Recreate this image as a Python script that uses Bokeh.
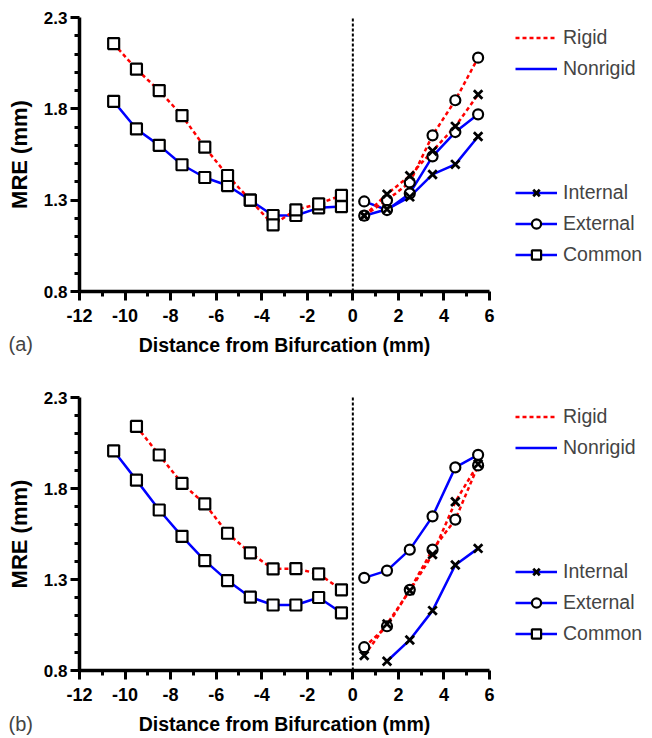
import numpy as np
from bokeh.plotting import figure
from bokeh.models import Range1d, Legend, LegendItem, FixedTicker, Label
from bokeh.layouts import column
from bokeh.embed import file_html
from bokeh.resources import INLINE

nan = float("nan")

# ---------------- data ----------------
common_x = [-10.5, -9.5, -8.5, -7.5, -6.5, -5.5, -4.5, -3.5, -2.5, -1.5, -0.5]
branch_x = [0.5, 1.5, 2.5, 3.5, 4.5, 5.5]
x_ticks = [-12, -10, -8, -6, -4, -2, 0, 2, 4, 6]
y_ticks = [0.8, 1.3, 1.8, 2.3]

# panel (a)
a_common_rigid = [2.157, 2.017, 1.90, 1.763, 1.59, 1.435, 1.30, 1.165, 1.247, 1.28, 1.326]
a_common_nonrigid = [1.841, 1.69, 1.60, 1.494, 1.424, 1.38, 1.30, 1.216, 1.216, 1.258, 1.265]
a_internal_rigid = [1.215, 1.333, 1.434, 1.569, 1.704, 1.878]
a_internal_nonrigid = [1.215, 1.25, 1.318, 1.441, 1.496, 1.649]
a_external_rigid = [1.215, 1.30, 1.397, 1.655, 1.847, 2.08]
a_external_nonrigid = [1.293, 1.246, 1.337, 1.54, 1.673, 1.77]

# panel (b)
b_common_rigid = [nan, 2.141, 1.984, 1.828, 1.715, 1.554, 1.446, 1.358, 1.36, 1.331, 1.243]
b_common_nonrigid = [2.007, 1.846, 1.682, 1.537, 1.404, 1.294, 1.203, 1.16, 1.16, 1.201, 1.117]
b_internal_rigid = [0.882, 1.056, 1.239, 1.437, 1.727, 1.934]
b_internal_nonrigid = [nan, 0.851, 0.968, 1.129, 1.38, 1.471]
b_external_rigid = [0.928, 1.043, 1.243, 1.464, 1.629, 1.927]
b_external_nonrigid = [1.309, 1.349, 1.464, 1.647, 1.916, 1.985]

RED = "#ff0000"
BLUE = "#0000ff"
FONT = "Liberation Sans"

# ---------------- layout (pixels) ----------------
FIG_W = 652
AX_LEFT_PX, AX_RIGHT_PX = 79, 489       # where x = -12 and x = 6 sit


def make_panel(tag, common_r, common_n, int_r, int_n, ext_r, ext_n,
               fig_h, top_px, bottom_px, legend_top_px, tag_y_px):
    # data ranges chosen so the axes land where the reference has them;
    # the frame covers the whole canvas so that nothing gets clipped
    x0, x1 = x_ticks[0], x_ticks[-1]
    y0, y1 = y_ticks[0], y_ticks[-1]
    kx = (x1 - x0) / (AX_RIGHT_PX - AX_LEFT_PX)
    ky = (y1 - y0) / (bottom_px - top_px)
    xr = Range1d(x0 - AX_LEFT_PX * kx, x1 + (FIG_W - AX_RIGHT_PX) * kx)
    yr = Range1d(y0 - (fig_h - bottom_px) * ky, y1 + top_px * ky)

    p = figure(width=FIG_W, height=fig_h, x_range=xr, y_range=yr,
               output_backend="svg", toolbar_location=None, min_border=0)
    p.outline_line_color = None
    p.xgrid.visible = False
    p.ygrid.visible = False

    minor_x = [v for v in range(-11, 6, 2)]
    minor_y = [round(v, 1) for v in np.arange(0.9, 2.25, 0.1) if round(v, 1) not in y_ticks]
    p.xaxis.ticker = FixedTicker(ticks=x_ticks, minor_ticks=minor_x)
    p.yaxis.ticker = FixedTicker(ticks=y_ticks, minor_ticks=minor_y)
    p.xaxis.major_label_overrides = {t: str(t) for t in x_ticks}
    p.xaxis.fixed_location = y0
    p.yaxis.fixed_location = x0
    p.xaxis.bounds = (x0, x1)
    p.yaxis.bounds = (y0, y1)

    for ax in (p.xaxis, p.yaxis):
        ax.axis_line_width = 3.5
        ax.major_tick_line_width = 3
        ax.minor_tick_line_width = 3
        ax.major_tick_in = 0
        ax.minor_tick_in = 0
        ax.major_label_text_font = FONT
        ax.major_label_text_font_style = "bold"
        ax.major_label_text_color = "black"
        ax.axis_label_text_font = FONT
        ax.axis_label_text_font_style = "bold"
        ax.axis_label_text_color = "black"
    p.xaxis.major_label_text_font_size = "18px"
    p.yaxis.major_label_text_font_size = "17px"
    p.xaxis.major_tick_out = 9
    p.xaxis.minor_tick_out = 5
    p.yaxis.major_tick_out = 9
    p.yaxis.minor_tick_out = 5
    p.xaxis.major_label_standoff = 8
    p.yaxis.major_label_standoff = 3
    p.xaxis.axis_label = "Distance from Bifurcation (mm)"
    p.yaxis.axis_label = "MRE (mm)"
    p.xaxis.axis_label_text_font_size = "19.5px"
    p.yaxis.axis_label_text_font_size = "22px"
    p.xaxis.axis_label_standoff = 9
    p.yaxis.axis_label_standoff = 9

    # bifurcation marker (x = 0) spanning the y axis
    p.segment(x0=[0], y0=[y0], x1=[0], y1=[y1], line_color="black",
              line_width=2, line_dash="3 2")

    lw = 2.5
    # nonrigid (solid blue) first, rigid (dashed red) on top
    r_cn = p.line(common_x, common_n, line_color=BLUE, line_width=lw)
    r_in = p.line(branch_x, int_n, line_color=BLUE, line_width=lw)
    r_en = p.line(branch_x, ext_n, line_color=BLUE, line_width=lw)
    r_cr = p.line(common_x, common_r, line_color=RED, line_width=lw, line_dash="4 3")
    p.line(branch_x, int_r, line_color=RED, line_width=lw, line_dash="4 3")
    p.line(branch_x, ext_r, line_color=RED, line_width=lw, line_dash="4 3")

    mk = dict(line_color="black", line_width=2.2, fill_color="white")
    s_c = p.scatter(common_x, common_n, marker="square", size=11, **mk)
    p.scatter(common_x, common_r, marker="square", size=11, **mk)
    s_e = p.scatter(branch_x, ext_n, marker="circle", size=10, **mk)
    p.scatter(branch_x, ext_r, marker="circle", size=10, **mk)
    s_i = p.scatter(branch_x, int_n, marker="x", size=12, line_color="black", line_width=2.8)
    p.scatter(branch_x, int_r, marker="x", size=12, line_color="black", line_width=2.8)

    blank = p.line(x=[], y=[], line_alpha=0)

    n_rows, row_h, gap = 8, 23, 8
    leg_h = n_rows * row_h + (n_rows - 1) * gap
    leg = Legend(items=[LegendItem(label="Rigid", renderers=[r_cr]),
                        LegendItem(label="Nonrigid", renderers=[r_cn]),
                        LegendItem(label=" ", renderers=[blank]),
                        LegendItem(label=" ", renderers=[blank]),
                        LegendItem(label=" ", renderers=[blank]),
                        LegendItem(label="Internal", renderers=[r_in, s_i]),
                        LegendItem(label="External", renderers=[r_en, s_e]),
                        LegendItem(label="Common", renderers=[r_cn, s_c])],
                 location=(515, fig_h - legend_top_px - leg_h),
                 spacing=gap, glyph_width=42, glyph_height=row_h,
                 label_height=row_h, label_standoff=6, padding=0, margin=0,
                 border_line_color=None, background_fill_alpha=0,
                 label_text_font=FONT, label_text_font_size="19.5px")
    p.add_layout(leg)

    p.add_layout(Label(x=8, y=fig_h - tag_y_px, x_units="screen", y_units="screen",
                       text=tag, text_font=FONT, text_font_size="20px",
                       text_baseline="middle", text_align="left"))
    return p


# top figure: canvas rows 0..378, axes 17..291
p1 = make_panel("(a)", a_common_rigid, a_common_nonrigid, a_internal_rigid,
                a_internal_nonrigid, a_external_rigid, a_external_nonrigid,
                378, 17, 291, 26, 343)
# bottom figure: canvas rows 378..738, axes 397..670 (local 19..292)
p2 = make_panel("(b)", b_common_rigid, b_common_nonrigid, b_internal_rigid,
                b_internal_nonrigid, b_external_rigid, b_external_nonrigid,
                360, 19, 292, 27, 345)

layout = column(p1, p2, spacing=0)
open("out.html", "w").write(file_html(layout, INLINE))
